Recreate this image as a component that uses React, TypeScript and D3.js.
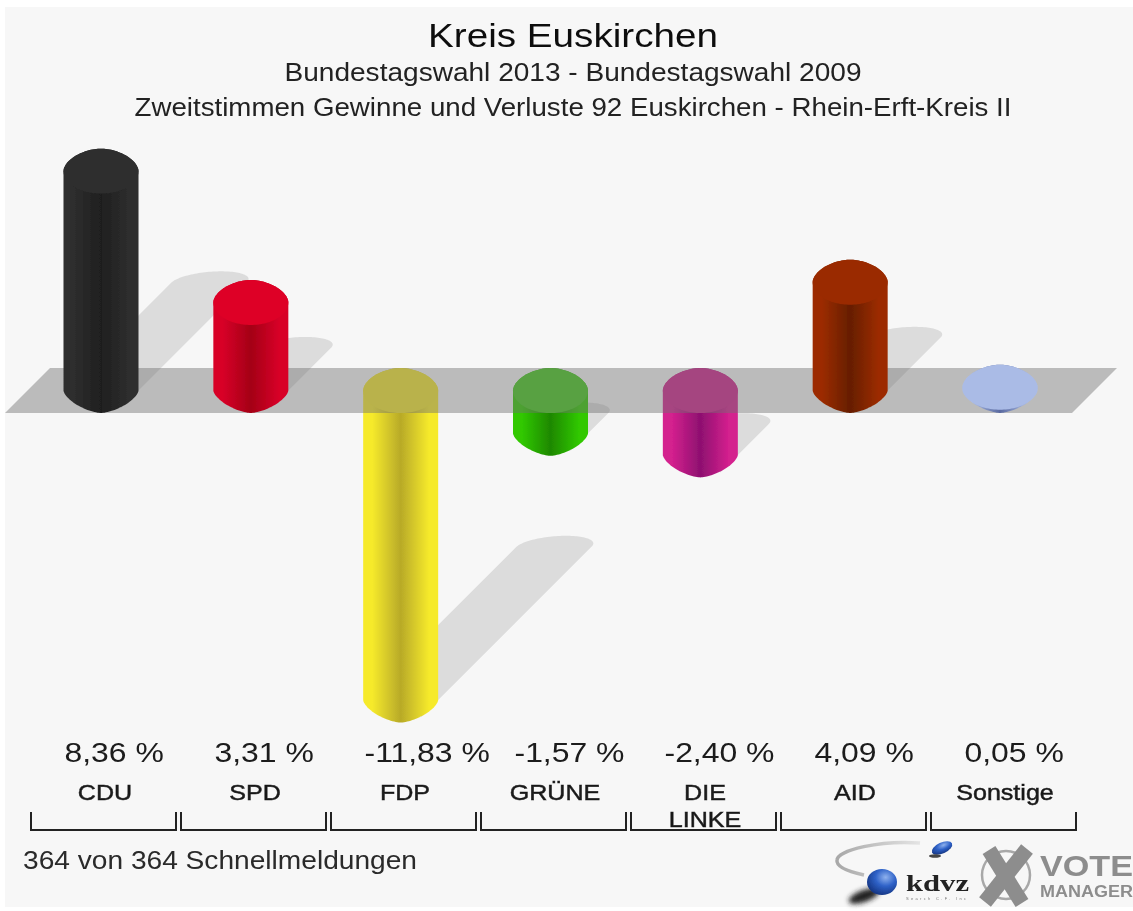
import React from "react";
import * as d3 from "d3";

const categories = ["CDU", "SPD", "FDP", "GRÜNE", "DIE LINKE", "AID", "Sonstige"];
const values = [8.36, 3.31, -11.83, -1.57, -2.4, 4.09, 0.05];
const valueLabels = ["8,36 %", "3,31 %", "-11,83 %", "-1,57 %", "-2,40 %", "4,09 %", "0,05 %"];
const capColors = ["#2e2e2e", "#de0026", "#f4e82c", "#44c81c", "#d0208c", "#9a2c00", "#aabbe6"];
const edgeColors = ["#2e2e2e", "#d80028", "#f6ea2c", "#30c800", "#d4208e", "#9c2c00", "#aabbe6"];
const coreColors = ["#1f1f1f", "#a40016", "#b8aa28", "#1e8800", "#8e1070", "#661e00", "#5a6aa0"];
const titleLines = [
  "Kreis Euskirchen",
  "Bundestagswahl 2013 - Bundestagswahl 2009",
  "Zweitstimmen Gewinne und Verluste 92 Euskirchen - Rhein-Erft-Kreis II",
];
const footer = "364 von 364 Schnellmeldungen";

const W = 1133;
const H = 911;
const FONT = "'Liberation Sans', Arial, sans-serif";
const BAR_W = 75;
const R = BAR_W / 2;
const CAP = 22.5;
const PLANE_TOP = 368;
const PLANE_BOTTOM = 413;

const xCenter = d3.scalePoint<string>().domain(categories).range([101, 1000]);
const xBand = d3.scaleBand<string>().domain(categories).range([28.5, 1078.5]);
const lengthScale = d3.scaleLinear().domain([0, 1]).range([47, 73]);
const shadowScale = d3.scaleLinear().domain([0, 1]).range([33, 46]);

// superellipse half-arcs: n = 2 is a true ellipse, smaller n is more pointed
const arc = (n: number) =>
  d3.range(0, 61).map((i) => {
    const t = (i / 60) * Math.PI;
    const c = Math.cos(t);
    const s = Math.sin(t);
    return [Math.sign(c) * Math.pow(Math.abs(c), 2 / n), Math.pow(s, 2 / n)];
  });
const TOP_ARC = arc(1.8);
const BOTTOM_ARC = arc(1.55);
const FRONT_ARC = arc(2);

function cylinder(cx: number, top: number, bottom: number) {
  const p = d3.path();
  p.moveTo(cx - R, top + CAP);
  TOP_ARC.forEach(([c, s]) => p.lineTo(cx - R * c, top + CAP - CAP * s));
  p.lineTo(cx + R, bottom - CAP);
  BOTTOM_ARC.forEach(([c, s]) => p.lineTo(cx + R * c, bottom - CAP + CAP * s));
  p.closePath();
  return p.toString();
}

function capPath(cx: number, top: number) {
  const p = d3.path();
  p.moveTo(cx - R, top + CAP);
  TOP_ARC.forEach(([c, s]) => p.lineTo(cx - R * c, top + CAP - CAP * s));
  FRONT_ARC.forEach(([c, s]) => p.lineTo(cx + R * c, top + CAP + CAP * s));
  p.closePath();
  return p.toString();
}

function shadow(cx: number, anchor: number, v: number) {
  const dy = shadowScale(Math.abs(v));
  const tipR = cx + dy + 4;
  const y = anchor - dy + 11;
  const tipL = tipR - BAR_W;
  const L = Math.max(0, tipR - cx - 20);
  const L2 = Math.max(0, tipL - cx - 20);
  const p = d3.path();
  p.moveTo(tipL, y);
  FRONT_ARC.forEach(([c, s]) => p.lineTo(tipR - R - R * c + 12 * s, y - 11 * s));
  p.lineTo(tipR - L, y + L);
  p.lineTo(tipL - L2, y + L2);
  p.closePath();
  return p.toString();
}

const planePath = (() => {
  const p = d3.path();
  p.moveTo(50, PLANE_TOP);
  p.lineTo(1117, PLANE_TOP);
  p.lineTo(1072, PLANE_BOTTOM);
  p.lineTo(5, PLANE_BOTTOM);
  p.closePath();
  return p.toString();
})();

function Bar({ i }: { i: number }) {
  const c = categories[i];
  const v = values[i];
  const cx = xCenter(c) as number;
  const h = lengthScale(Math.abs(v));
  const top = v >= 0 ? PLANE_BOTTOM - h : PLANE_TOP;
  return (
    <g>
      <path d={cylinder(cx, top, top + h)} fill={`url(#bar${i})`} />
      <path d={capPath(cx, top)} fill={capColors[i]} />
    </g>
  );
}

export default function App() {
  const order = values.map((_, i) => i);
  return (
    <svg
      width={W}
      height={H}
      viewBox={`0 0 ${W} ${H}`}
      style={{ position: "absolute", left: 0, top: 0, background: "#fff" }}
    >
      <defs>
        {order.map((i) => (
          <linearGradient key={i} id={`bar${i}`} x1="0" x2="1" y1="0" y2="0">
            <stop offset="0" stopColor={edgeColors[i]} />
            <stop offset="0.12" stopColor={edgeColors[i]} />
            <stop offset="0.5" stopColor={coreColors[i]} />
            <stop offset="0.88" stopColor={edgeColors[i]} />
            <stop offset="1" stopColor={edgeColors[i]} />
          </linearGradient>
        ))}
        <radialGradient id="ball" cx="0.62" cy="0.32" r="0.75">
          <stop offset="0" stopColor="#8fb2ee" />
          <stop offset="0.45" stopColor="#2f62c8" />
          <stop offset="1" stopColor="#12307a" />
        </radialGradient>
        <linearGradient id="swoosh" x1="0" x2="1" y1="0" y2="0">
          <stop offset="0" stopColor="#a8a8a8" />
          <stop offset="1" stopColor="#e4e4e4" />
        </linearGradient>
        <filter id="soft" x="-2%" y="-2%" width="104%" height="104%">
          <feGaussianBlur stdDeviation="0.7" />
        </filter>
        <filter id="softer" x="-40%" y="-60%" width="180%" height="220%">
          <feGaussianBlur stdDeviation="2.5" />
        </filter>
      </defs>
      <rect x={5} y={7} width={W - 5} height={900} fill="#f7f7f7" />
      <g filter="url(#soft)">
        <g fill="#dcdcdc">
          {order
            .filter((i) => Math.abs(values[i]) >= 0.5)
            .map((i) => {
              const cx = xCenter(categories[i]) as number;
              const anchor =
                values[i] >= 0 ? PLANE_BOTTOM : PLANE_TOP + lengthScale(-values[i]);
              return <path key={i} d={shadow(cx, anchor, values[i])} />;
            })}
        </g>
        {order.filter((i) => values[i] < 0).map((i) => <Bar key={i} i={i} />)}
        <path d={planePath} fill="#707070" fillOpacity={0.45} />
        {order.filter((i) => values[i] >= 0).map((i) => <Bar key={i} i={i} />)}

        <g textAnchor="middle">
          <text x={573} y={47} fontFamily={FONT} fontSize={34} fill="#111" textLength={290} lengthAdjust="spacingAndGlyphs">
            {titleLines[0]}
          </text>
          <text x={573} y={81} fontFamily={FONT} fontSize={26} fill="#222" textLength={577} lengthAdjust="spacingAndGlyphs">
            {titleLines[1]}
          </text>
          <text x={573} y={116} fontFamily={FONT} fontSize={26} fill="#222" textLength={877} lengthAdjust="spacingAndGlyphs">
            {titleLines[2]}
          </text>
        </g>

        {order.map((i) => (
          <text
            key={i}
            transform={`translate(${(xBand(categories[i]) as number) + 36},762) scale(1.14,1)`}
            fontFamily={FONT}
            fontSize={28}
            fill="#1a1a1a"
          >
            {valueLabels[i]}
          </text>
        ))}
        {order.map((i) => {
          const c = categories[i];
          const mid = (xBand(c) as number) + 76.5;
          return (
            <g key={c} textAnchor="middle">
              {c.split(" ").map((part, j) => (
                <text
                  key={part}
                  transform={`translate(${mid},${800 + j * 27}) scale(1.14,1)`}
                  fontFamily={FONT}
                  fontSize={22}
                  fill="#1a1a1a"
                  stroke="#1a1a1a"
                  strokeWidth={0.45}
                >
                  {part}
                </text>
              ))}
            </g>
          );
        })}
        <g fill="none" stroke="#222" strokeWidth={2}>
          {order.map((i) => {
            const l = (xBand(categories[i]) as number) + 2.5;
            const r = l + 145;
            const p = d3.path();
            p.moveTo(l, 812);
            p.lineTo(l, 830);
            p.lineTo(r, 830);
            p.lineTo(r, 812);
            return <path key={i} d={p.toString()} />;
          })}
        </g>
        <text x={23} y={869} fontFamily={FONT} fontSize={26} fill="#2a2a2a" textLength={394} lengthAdjust="spacingAndGlyphs">
          {footer}
        </text>

        {/* kdvz logo */}
        <path d="M920,843 C880,840 838,850 837,860 C836,867 850,872 864,875" fill="none" stroke="url(#swoosh)" strokeWidth={3.5} />
        <ellipse cx={864} cy={896} rx={16} ry={6} transform="rotate(-20 864 896)" fill="#222" filter="url(#softer)" />
        <ellipse cx={882} cy={882} rx={15} ry={13} fill="url(#ball)" />
        <ellipse cx={942} cy={848} rx={11} ry={5.5} transform="rotate(-25 942 848)" fill="url(#ball)" />
        <ellipse cx={935} cy={856} rx={6} ry={1.8} fill="#444" />
        <text x={906} y={891} fontFamily="'Liberation Serif', serif" fontWeight={700} fontSize={24} fill="#222" textLength={63} lengthAdjust="spacingAndGlyphs">
          kdvz
        </text>
        <text x={906} y={900} fontFamily={FONT} fontSize={4} fill="#777" textLength={60}>
          Search   C.F.   Inc
        </text>

        {/* Vote Manager logo */}
        <g stroke="#8d8d8d" fill="none">
          <circle cx={1006} cy={875} r={24} strokeWidth={2.5} stroke="#a8a8a8" />
          <path d="M989,850 L1022,903" strokeWidth={15} />
          <path d="M1027,849 L985,902" strokeWidth={15} />
        </g>
        <text x={1040} y={876} fontFamily={FONT} fontWeight={700} fontSize={30} fill="#8d8d8d" textLength={93} lengthAdjust="spacingAndGlyphs">
          VOTE
        </text>
        <text x={1040} y={897} fontFamily={FONT} fontWeight={700} fontSize={16} fill="#8d8d8d" textLength={93} lengthAdjust="spacingAndGlyphs">
          MANAGER
        </text>
      </g>
    </svg>
  );
}
